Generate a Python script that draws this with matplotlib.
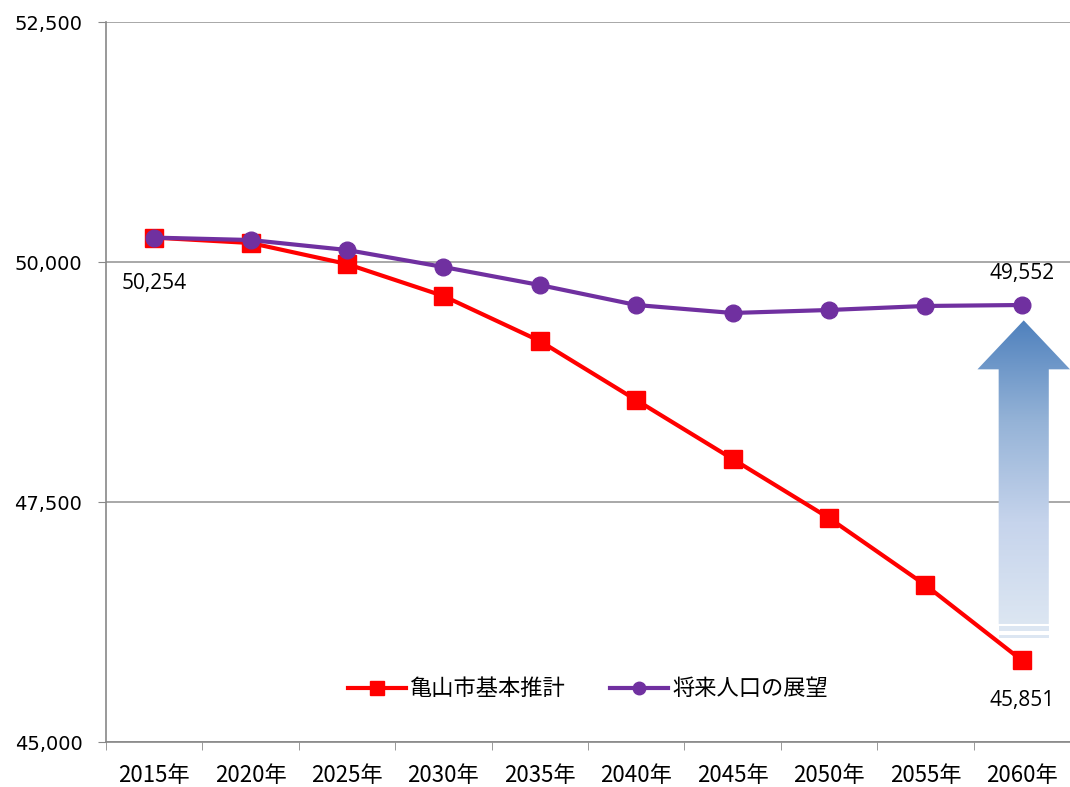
import numpy as np
import matplotlib
matplotlib.use("Agg")
import matplotlib.pyplot as plt
from matplotlib.path import Path
from matplotlib.patches import PathPatch, Rectangle

plt.rcParams['font.family'] = ['Noto Sans CJK JP', 'DejaVu Sans']

years = ['2015年', '2020年', '2025年', '2030年', '2035年',
         '2040年', '2045年', '2050年', '2055年', '2060年']
basic = [50254, 50198, 49979, 49646, 49177, 48562, 47948, 47333, 46635, 45851]
vision = [50254, 50229, 50125, 49948, 49760, 49552, 49469, 49500, 49542, 49552]
yticks = [45000, 47500, 50000, 52500]

fig = plt.figure(figsize=(10.7, 7.87), dpi=100)
ax = fig.add_axes([106 / 1070, 1 - 742 / 787, 964 / 1070, 720 / 787])

x = np.arange(len(years))
ax.plot(x, basic, color='#ff0000', lw=3, marker='s', ms=13, label='亀山市基本推計', zorder=3)
ax.plot(x, vision, color='#7030a0', lw=3, marker='o', ms=12, label='将来人口の展望', zorder=4)

ax.set_xlim(-0.5, len(years) - 0.5)
ax.set_ylim(45000, 52500)
ax.set_yticks(yticks)
ax.set_yticklabels([f'{v:,}' for v in yticks], family='DejaVu Sans', fontsize=14)
ax.set_xticks(x)
ax.set_xticklabels(years, fontsize=16)
ax.set_xticks(np.arange(len(years) + 1) - 0.5, minor=True)
ax.tick_params(axis='x', which='major', length=0, pad=16)
ax.tick_params(axis='x', which='minor', length=6, color='#888888')
ax.tick_params(axis='y', length=6, color='#888888', pad=11)
ax.grid(axis='y', color='#999999', lw=1.2)
for s in ['top', 'right']:
    ax.spines[s].set_visible(False)
for s in ['left', 'bottom']:
    ax.spines[s].set_color('#888888')
    ax.spines[s].set_linewidth(1.2)

# data labels
lab = dict(textcoords='offset points', ha='center', fontsize=15, family='Open Sans')
ax.annotate(f'{basic[0]:,}', (x[0], basic[0]), xytext=(0, -37), **lab)
ax.annotate(f'{vision[-1]:,}', (x[-1], vision[-1]), xytext=(0, 19), **lab)
ax.annotate(f'{basic[-1]:,}', (x[-1], basic[-1]), xytext=(0, -33), **lab)

# gradient arrow
cx = x[-1] + 0.02
tip = vision[-1] - 160
head = tip - 510
bottom = basic[-1] + 375
hw, sw = 0.48, 0.26
verts = [(cx - sw, bottom), (cx - sw, head), (cx - hw, head), (cx, tip),
         (cx + hw, head), (cx + sw, head), (cx + sw, bottom), (cx - sw, bottom)]
path = Path(verts, [Path.MOVETO] + [Path.LINETO] * 6 + [Path.CLOSEPOLY])
patch = PathPatch(path, facecolor='none', edgecolor='none')
ax.add_patch(patch)
cmap = matplotlib.colors.LinearSegmentedColormap.from_list(
    'arr', ['#dce6f2', '#c6d4ec', '#95b3d7', '#4f81bd'])
grad = np.linspace(0, 1, 256).reshape(-1, 1)
im = ax.imshow(grad, cmap=cmap, aspect='auto', origin='lower',
               extent=(cx - hw, cx + hw, bottom, tip), zorder=2)
im.set_clip_path(patch)
ax.add_patch(Rectangle((cx - sw, bottom - 70), 2 * sw, 50, color='#dce6f2', lw=0, zorder=2))
ax.add_patch(Rectangle((cx - sw, bottom - 145), 2 * sw, 35, color='#dce6f2', lw=0, zorder=2))

ax.legend(loc='lower center', bbox_to_anchor=(0.5, 0.03), ncol=2, frameon=False,
          fontsize=16, handlelength=2.6, handletextpad=0.2, columnspacing=2.0,
          markerscale=0.75)

fig.savefig('out.png', dpi=100)
